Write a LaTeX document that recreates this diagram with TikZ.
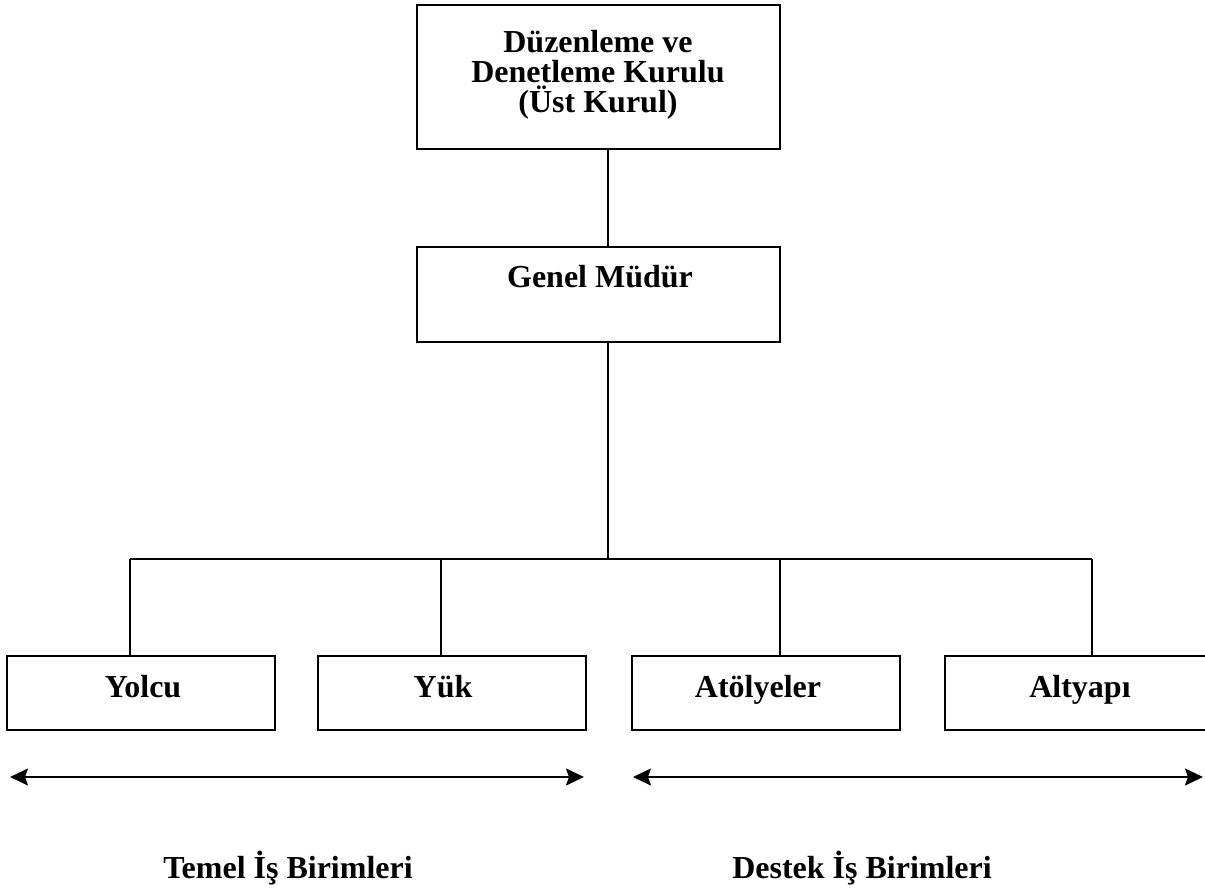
\documentclass[tikz,border=0pt]{standalone}
\usepackage{fontspec}
\setmainfont{Liberation Serif}
\usetikzlibrary{arrows.meta}
\begin{document}
\begin{tikzpicture}[x=1pt,y=-1pt,
  box/.style={draw, line width=1.8pt, inner sep=0pt, minimum width=363pt},
  unit/.style={draw, line width=1.8pt, inner sep=0pt, minimum width=268pt, minimum height=74pt},
  txt/.style={font=\fontsize{32}{29}\selectfont\bfseries, inner sep=0pt, anchor=base},
  conn/.style={line width=1.8pt},
  span/.style={line width=1.8pt, {Stealth[length=18pt,width=17pt,inset=3pt]}-{Stealth[length=18pt,width=17pt,inset=3pt]}}
]
\useasboundingbox (0,0) rectangle (1205,889);
% boxes
\node[box, minimum height=144pt] (top) at (598.5,77) {};
\node[box, minimum height=95pt] (genel) at (598.5,294.5) {};
\node[unit] (yolcu) at (141,693) {};
\node[unit] (yuk) at (452,693) {};
\node[unit] (atol) at (766,693) {};
\node[unit] (alt) at (1079,693) {};
% texts
\node[txt] (t1) at (598,52) {Düzenleme ve};
\node[txt] (t2) at (598,82) {Denetleme Kurulu};
\node[txt] (t3) at (598,112) {(Üst Kurul)};
\node[txt] (tg) at (600,287) {Genel Müdür};
\node[txt] (ty) at (143,697) {Yolcu};
\node[txt] (tk) at (443,697) {Yük};
\node[txt] (ta) at (758,697) {Atölyeler};
\node[txt] (tl) at (1080,697) {Altyapı};
\node[txt] (temel) at (288,878) {Temel İş Birimleri};
\node[txt] (destek) at (862,878) {Destek İş Birimleri};
% connectors
\coordinate (j0) at (608,559);
\coordinate (d1) at (130,559);
\coordinate (d2) at (441,559);
\coordinate (d3) at (780,559);
\coordinate (d4) at (1092,559);
\draw[conn] (top.south -| j0) -- (genel.north -| j0);
\draw[conn] (genel.south -| j0) -- (j0);
\draw[conn] (d1) -- (d4);
\draw[conn] (d1) -- (d1 |- yolcu.north);
\draw[conn] (d2) -- (d2 |- yuk.north);
\draw[conn] (d3) -- (d3 |- atol.north);
\draw[conn] (d4) -- (d4 |- alt.north);
% spans
\coordinate (a1) at (10,777);
\coordinate (a2) at (584,777);
\coordinate (b1) at (633,777);
\coordinate (b2) at (1203,777);
\draw[span] (a1) -- (a2);
\draw[span] (b1) -- (b2);
\end{tikzpicture}
\end{document}
